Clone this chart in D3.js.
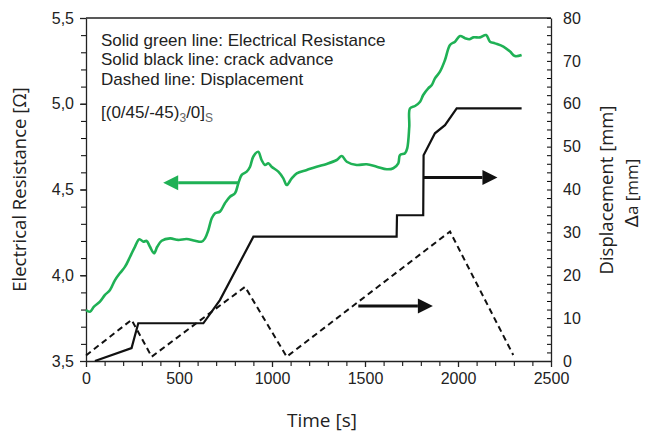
<!DOCTYPE html>
<html>
<head>
<meta charset="utf-8">
<script src="https://cdn.jsdelivr.net/npm/d3@7"></script>
<style>
  body { margin: 0; background: #fff; }
  text { font-family: "Liberation Sans", Arial, sans-serif; fill: #222; }
</style>
</head>
<body>
<div id="chart"></div>
<script>
// Electrical resistance (green), time in s / resistance in ohm
var resTime = [0, 21, 43, 75, 102, 129, 156, 183, 210, 237, 263, 287, 308, 326, 344, 366, 383, 407, 452, 496,
  541, 586, 622, 640, 658, 676, 694, 720, 747, 774, 801, 819, 837, 864, 882, 899, 926, 944, 962, 980,
  998, 1034, 1061, 1079, 1106, 1133, 1187, 1240, 1294, 1348, 1375, 1402, 1455, 1509, 1563, 1617, 1652, 1679, 1688, 1715,
  1727, 1738, 1742, 1769, 1796, 1813, 1840, 1859, 1876, 1903, 1930, 1957, 1984, 2011, 2038, 2061, 2082, 2118, 2151, 2172,
  2199, 2244, 2280, 2306, 2342];
var resValue = [3.797, 3.787, 3.817, 3.846, 3.885, 3.914, 3.972, 4.013, 4.050, 4.108, 4.166, 4.210, 4.196, 4.200, 4.166, 4.128, 4.166, 4.201, 4.215, 4.206,
  4.211, 4.201, 4.196, 4.215, 4.264, 4.332, 4.361, 4.371, 4.420, 4.458, 4.478, 4.536, 4.585, 4.604, 4.633, 4.691, 4.720, 4.672, 4.643, 4.653,
  4.633, 4.604, 4.565, 4.526, 4.565, 4.594, 4.614, 4.633, 4.649, 4.672, 4.695, 4.662, 4.643, 4.647, 4.633, 4.618, 4.624, 4.653, 4.701, 4.711,
  4.740, 4.866, 4.973, 4.987, 5.012, 5.051, 5.090, 5.109, 5.148, 5.187, 5.255, 5.343, 5.362, 5.395, 5.382, 5.376, 5.387, 5.387, 5.401, 5.362,
  5.352, 5.333, 5.304, 5.278, 5.284];

// Crack advance (solid black), mm
var crackTime = [48, 245, 281, 631, 720, 900, 1670, 1672, 1813, 1815, 1876, 1930, 1993, 2342];
var crackValue = [0, 3.0, 8.8, 8.8, 14.2, 29.0, 29.0, 34.0, 34.0, 48.0, 53.1, 55.0, 58.9, 58.9];

// Displacement (dashed), mm
var dispTime = [0, 245, 353, 855, 1079, 1957, 2297];
var dispValue = [1.3, 9.6, 1.0, 17.3, 1.0, 30.2, 1.4];

// Ticks
var xTicks = [0, 500, 1000, 1500, 2000, 2500];
var yLeftTicks = [3.5, 4.0, 4.5, 5.0, 5.5];
var yRightTicks = [0, 10, 20, 30, 40, 50, 60, 70, 80];

var svgWidth = 645;
var svgHeight = 433;

var margin = { top: 18, right: 94, bottom: 72, left: 86 };
var width = svgWidth - margin.left - margin.right;
var height = svgHeight - margin.top - margin.bottom;

var svg = d3.select("#chart")
  .append("svg")
  .attr("width", svgWidth)
  .attr("height", svgHeight);

var chartGroup = svg.append("g")
  .attr("transform", `translate(${margin.left}, ${margin.top})`);

var xScale = d3.scaleLinear().domain([0, 2500]).range([0, width]);
var yLeft = d3.scaleLinear().domain([3.5, 5.5]).range([height, 0]);
var yRight = d3.scaleLinear().domain([0, 80]).range([height, 0]);

var commaFmt = function(d) { return d3.format(".1f")(d).replace(".", ","); };

// minor ticks
chartGroup.append("g")
  .attr("transform", `translate(0, ${height})`)
  .call(d3.axisBottom(xScale).tickValues(d3.range(0, 2501, 100)).tickSize(5).tickFormat(""))
  .call(g => g.select(".domain").remove());
chartGroup.append("g")
  .call(d3.axisLeft(yLeft).tickValues(d3.range(35, 56, 1).map(d => d / 10)).tickSize(5).tickFormat(""))
  .call(g => g.select(".domain").remove());
chartGroup.append("g")
  .attr("transform", `translate(${width}, 0)`)
  .call(d3.axisLeft(yRight).tickValues(d3.range(0, 81, 2)).tickSize(4).tickFormat(""))
  .call(g => g.select(".domain").remove());

// main axes
var xAxisG = chartGroup.append("g")
  .attr("transform", `translate(0, ${height})`)
  .call(d3.axisBottom(xScale).tickValues(xTicks).tickFormat(d3.format("d")).tickSize(6).tickSizeOuter(0).tickPadding(6));
var yLeftG = chartGroup.append("g")
  .call(d3.axisLeft(yLeft).tickValues(yLeftTicks).tickFormat(commaFmt).tickSize(6).tickSizeOuter(0).tickPadding(6));
var yRightG = chartGroup.append("g")
  .attr("transform", `translate(${width}, 0)`)
  .call(d3.axisRight(yRight).tickValues(yRightTicks).tickSize(0).tickSizeOuter(0).tickPadding(12));

[xAxisG, yLeftG, yRightG].forEach(function(g) {
  g.attr("font-family", null).attr("font-size", null);
  g.selectAll("text").style("font-size", "16px").attr("fill", "#222");
  g.selectAll("line, path").attr("stroke", "#222").attr("stroke-width", 1.3);
});

// top frame line
chartGroup.append("line")
  .attr("x1", 0).attr("x2", width)
  .attr("y1", 0).attr("y2", 0)
  .attr("stroke", "#222").attr("stroke-width", 1.3);

// lines
var resData = resTime.map((t, i) => ({ t: t, v: resValue[i] }));
var crackData = crackTime.map((t, i) => ({ t: t, v: crackValue[i] }));
var dispData = dispTime.map((t, i) => ({ t: t, v: dispValue[i] }));

var lineLeft = d3.line().x(d => xScale(d.t)).y(d => yLeft(d.v)).curve(d3.curveCatmullRom.alpha(0.5));
var lineRight = d3.line().x(d => xScale(d.t)).y(d => yRight(d.v));

chartGroup.append("path")
  .datum(dispData)
  .attr("d", lineRight)
  .attr("fill", "none")
  .attr("stroke", "#111")
  .attr("stroke-width", 2)
  .attr("stroke-dasharray", "6,4");

chartGroup.append("path")
  .datum(crackData)
  .attr("d", lineRight)
  .attr("fill", "none")
  .attr("stroke", "#111")
  .attr("stroke-width", 2.2);

chartGroup.append("path")
  .datum(resData)
  .attr("d", lineLeft)
  .attr("fill", "none")
  .attr("stroke", "#1fb155")
  .attr("stroke-width", 2.6);

// arrows
function arrow(x1, x2, y, color) {
  var dir = x2 > x1 ? 1 : -1;
  var headLen = 15, headHalf = 7.5;
  chartGroup.append("line")
    .attr("x1", x1).attr("x2", x2 - dir * headLen)
    .attr("y1", y).attr("y2", y)
    .attr("stroke", color).attr("stroke-width", 3);
  chartGroup.append("path")
    .attr("d", `M${x2},${y} L${x2 - dir * headLen},${y - headHalf} L${x2 - dir * headLen},${y + headHalf} Z`)
    .attr("fill", color);
}
arrow(xScale(820), xScale(415), yLeft(4.54), "#1fb155");
arrow(xScale(1813), xScale(2212), yRight(42.8), "#111");
arrow(xScale(1464), xScale(1865), yRight(12.8), "#111");

// annotation text
var note = chartGroup.append("g").style("font-size", "17px");
var notes = ["Solid green line: Electrical Resistance", "Solid black line: crack advance", "Dashed line: Displacement"];
notes.forEach(function(s, i) {
  note.append("text").attr("x", 15).attr("y", 28 + i * 19.4).text(s);
});
var layup = note.append("text").attr("x", 15).attr("y", 100);
layup.append("tspan").text("[(0/45/-45)");
layup.append("tspan").attr("dy", 4).style("font-size", "12px").style("fill", "#666").text("3");
layup.append("tspan").attr("dy", -4).text("/0]");
layup.append("tspan").attr("dy", 4).style("font-size", "12px").style("fill", "#666").text("S");

// axis titles
svg.append("text")
  .attr("transform", `translate(26, ${margin.top + height / 2}) rotate(-90)`)
  .attr("text-anchor", "middle")
  .style("font-family", "'Open Sans', sans-serif")
  .style("font-size", "18.5px")
  .text("Electrical Resistance [Ω]");

svg.append("text")
  .attr("x", 322)
  .attr("y", 427)
  .attr("text-anchor", "middle")
  .style("font-family", "'Open Sans', sans-serif")
  .style("font-size", "19px")
  .text("Time [s]");

svg.append("text")
  .attr("transform", `translate(613, 190) rotate(-90)`)
  .attr("text-anchor", "middle")
  .style("font-family", "'Open Sans', sans-serif")
  .style("font-size", "18.5px")
  .text("Displacement [mm]");

var daTitle = svg.append("text")
  .attr("transform", `translate(638, 193) rotate(-90)`)
  .attr("text-anchor", "middle")
  .style("font-family", "'Open Sans', sans-serif")
  .style("font-size", "17px");
daTitle.append("tspan").style("font-family", "'DejaVu Sans', sans-serif").style("font-size", "18px").text("Δ");
daTitle.append("tspan").text("a [mm]");
</script>
</body>
</html>
